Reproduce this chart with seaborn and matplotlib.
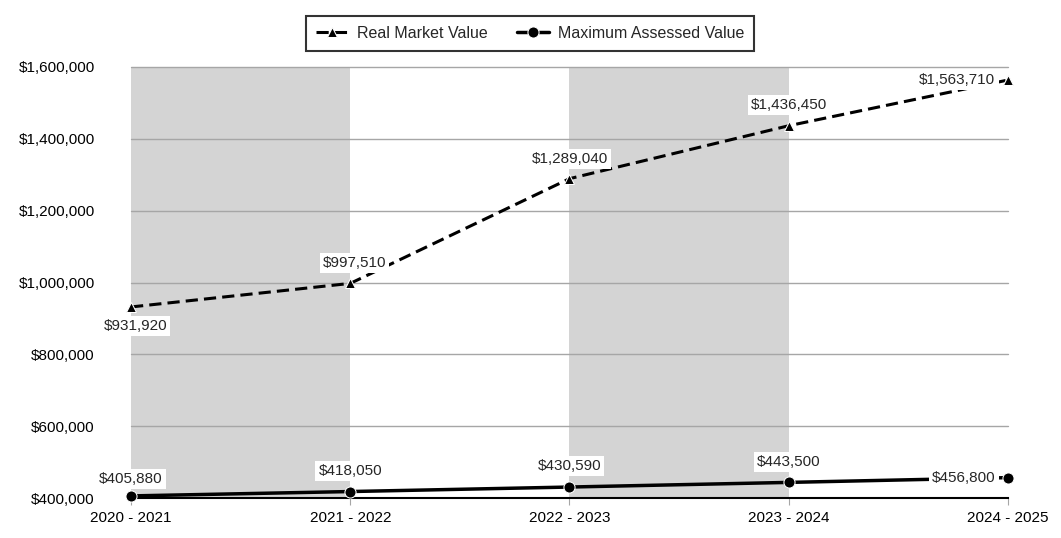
import matplotlib
matplotlib.use('Agg')
import matplotlib.pyplot as plt
import matplotlib.ticker as mticker
import pandas as pd
import seaborn as sns

years = ['2020 - 2021', '2021 - 2022', '2022 - 2023', '2023 - 2024', '2024 - 2025']
real_market = [931920, 997510, 1289040, 1436450, 1563710]
max_assessed = [405880, 418050, 430590, 443500, 456800]

df = pd.DataFrame({'year': years, 'real': real_market, 'assessed': max_assessed})
df['pos'] = range(len(df))

sns.set_style('white')
plt.rcParams['font.family'] = ['Liberation Sans', 'DejaVu Sans']

fig = plt.figure(figsize=(10.61, 5.38), dpi=100)
ax = fig.add_axes([0.1235, 0.0743, 0.8265, 0.8012])

# shaded bands
ax.axvspan(0, 1, color='#d4d4d4', zorder=0, lw=0)
ax.axvspan(2, 3, color='#d4d4d4', zorder=0, lw=0)

for y in range(600000, 1600001, 200000):
    ax.axhline(y, color='#a6a6a6', lw=1, zorder=1)

sns.lineplot(data=df, x='pos', y='real', ax=ax, color='black', lw=2.2,
             linestyle=(0, (4, 2)), marker='^', markersize=7, label='Real Market Value', zorder=3)
sns.lineplot(data=df, x='pos', y='assessed', ax=ax, color='black', lw=2.5,
             marker='o', markersize=8, label='Maximum Assessed Value', zorder=3)

ax.set_xlim(0, 4)
ax.set_ylim(400000, 1600000)
ax.set_yticks(range(400000, 1600001, 200000))
ax.yaxis.set_major_formatter(mticker.FuncFormatter(lambda v, p: '${:,.0f}'.format(v)))
ax.set_xticks(df['pos'])
ax.set_xticklabels(years)
ax.set_xlabel('')
ax.set_ylabel('')
ax.tick_params(axis='both', labelsize=11, colors='black')
ax.tick_params(axis='y', left=False, length=0, pad=26)
ax.tick_params(axis='x', bottom=True, length=5, color='#a6a6a6', pad=4)
for s in ['left', 'right', 'top']:
    ax.spines[s].set_visible(False)
ax.spines['bottom'].set_color('black')
ax.spines['bottom'].set_linewidth(1.5)
ax.spines['bottom'].set_zorder(2)

box = dict(boxstyle='square,pad=0.2', fc='white', ec='none')
# real market labels: (dx, dy, ha) in points
real_off = [(3, -14, 'center'), (3, 15, 'center'), (0, 14, 'center'), (0, 15, 'center'), (-9, 0, 'right')]
for i, v in enumerate(real_market):
    dx, dy, ha = real_off[i]
    ax.annotate('${:,}'.format(v), (i, v), xytext=(dx, dy), textcoords='offset points',
                ha=ha, va='center', fontsize=11, bbox=box, zorder=4)
ass_off = [(0, 12, 'center'), (0, 15, 'center'), (0, 15, 'center'), (0, 15, 'center'), (-9, 0, 'right')]
for i, v in enumerate(max_assessed):
    dx, dy, ha = ass_off[i]
    ax.annotate('${:,}'.format(v), (i, v), xytext=(dx, dy), textcoords='offset points',
                ha=ha, va='center', fontsize=11, bbox=box, zorder=4)

for ln in ax.lines:
    ln.set_clip_on(False)

leg = ax.legend(loc='lower center', bbox_to_anchor=(0.455, 1.038), ncol=2, fontsize=11.5,
                frameon=True, fancybox=False, edgecolor='black', handlelength=2.0,
                handletextpad=0.6, columnspacing=1.8, borderpad=0.6, borderaxespad=0)
leg.get_frame().set_linewidth(1.5)

fig.savefig('out.png', dpi=100)
